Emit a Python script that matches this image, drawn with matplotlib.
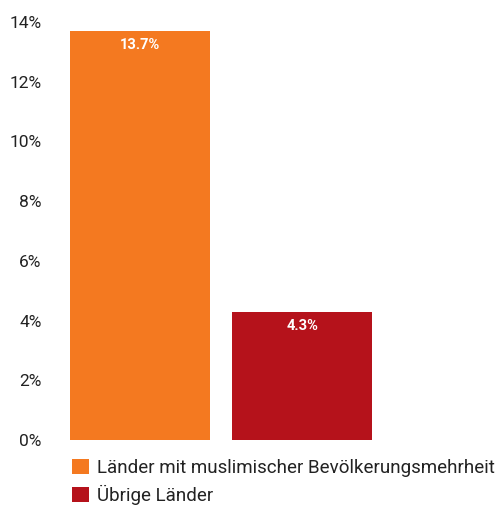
import matplotlib
matplotlib.use("Agg")
import matplotlib.pyplot as plt
from matplotlib.patches import Patch

categories = ["Länder mit muslimischer Bevölkerungsmehrheit", "Übrige Länder"]
values = [13.7, 4.3]
colors = ["#F47920", "#B5121B"]
yticks = [0, 2, 4, 6, 8, 10, 12, 14]

plt.rcParams['font.family'] = ['Roboto', 'DejaVu Sans']

W, H = 498, 505
fig = plt.figure(figsize=(W / 100, H / 100), dpi=100)
# axes in pixel terms: left 50, right 490, bottom at y=440, top at y=22
ax = fig.add_axes([50 / W, (H - 440) / H, 440 / W, (440 - 22) / H])

x = [0, 1]
bars = ax.bar(x, values, width=0.864, color=colors, linewidth=0)
ax.set_xlim(-0.556, 2.16)
ax.set_ylim(0, 14)

for xi, v in zip(x, values):
    ax.annotate(f"{v:.1f}%", (xi, v), xytext=(0, -14), textcoords="offset pixels",
                ha="center", va="center", color="white", fontsize=10.5, fontweight="bold")

ax.set_yticks(yticks)
ax.set_yticklabels([f"{t}%" for t in yticks], fontsize=12.5, color="#222222")
ax.set_xticks([])
ax.tick_params(axis="y", length=0, pad=6)
for s in ax.spines.values():
    s.set_visible(False)

handles = [Patch(facecolor=c, edgecolor="none") for c in colors]
fig.legend(handles, categories, loc="upper left",
           bbox_to_anchor=(66 / W, (H - 453) / H), frameon=False,
           fontsize=13.5, handlelength=0.9, handleheight=0.9,
           handletextpad=0.45, labelspacing=0.42, labelcolor="#222222",
           borderaxespad=0, borderpad=0.3)

fig.savefig("out.png", dpi=100)
